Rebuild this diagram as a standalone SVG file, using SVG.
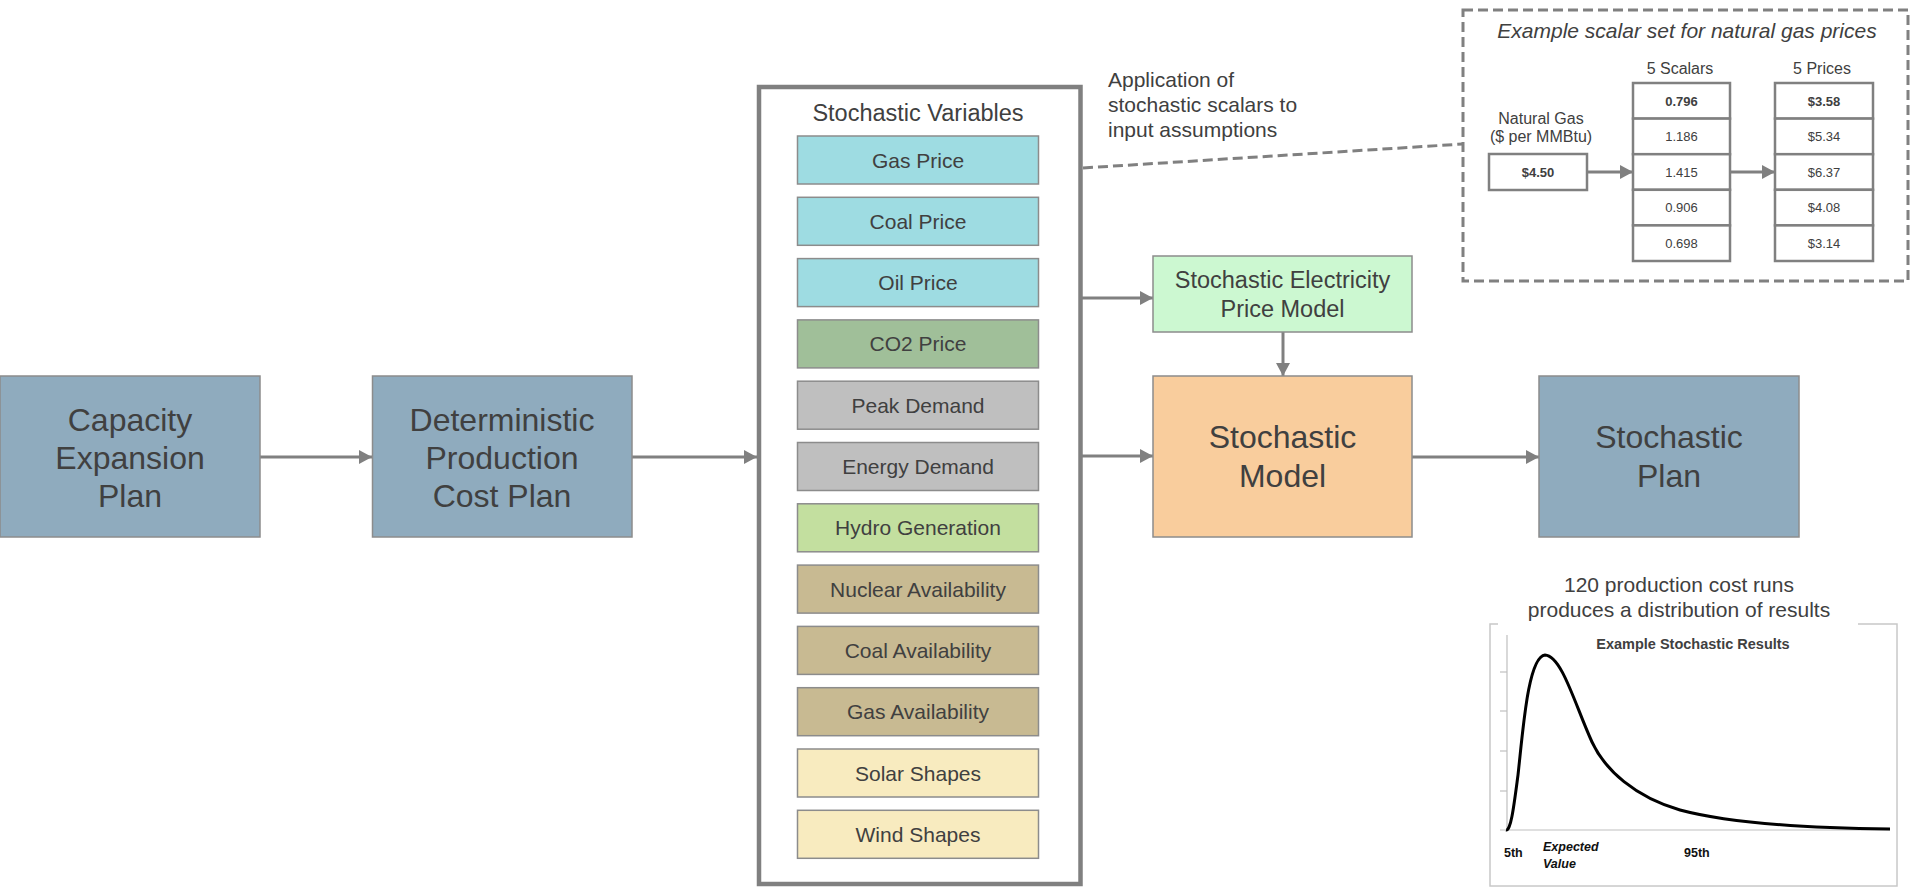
<svg xmlns="http://www.w3.org/2000/svg" width="1913" height="887" viewBox="0 0 1913 887">
<style>
text{font-family:"Liberation Sans",Arial,sans-serif;fill:#404040;text-anchor:middle}
text.left{text-anchor:start}
.big{font-size:32px}
.var{font-size:21px}
.box{stroke:#8c8c8c;stroke-width:1.5}
.plan{fill:#8fabbe}
.vbox{stroke:#8c8c8c;stroke-width:1.5}
.conn{stroke:#808080;stroke-width:3;fill:none}
.dash{stroke:#808080;stroke-width:3;fill:none;stroke-dasharray:10 5}
.cell{fill:#fff;stroke:#808080;stroke-width:2.5}
.sm{font-size:13px}
text.chart{font-family:"Liberation Sans",Arial,sans-serif;fill:#111;font-weight:bold;text-anchor:start;font-size:12.5px}
</style>
<defs>
<marker id="ah" markerUnits="userSpaceOnUse" markerWidth="14" markerHeight="14" refX="13" refY="7" orient="auto">
<path d="M0,0 L13,7 L0,14 z" fill="#808080"/>
</marker>
</defs>

<g id="connectors">
<line class="conn" x1="260" y1="457" x2="372" y2="457" marker-end="url(#ah)"/>
<line class="conn" x1="632" y1="457" x2="757" y2="457" marker-end="url(#ah)"/>
<line class="conn" x1="1082" y1="298" x2="1153" y2="298" marker-end="url(#ah)"/>
<line class="conn" x1="1082" y1="456" x2="1153" y2="456" marker-end="url(#ah)"/>
<line class="conn" x1="1283" y1="332" x2="1283" y2="376" marker-end="url(#ah)"/>
<line class="conn" x1="1412" y1="457" x2="1539" y2="457" marker-end="url(#ah)"/>
<line class="dash" x1="1083" y1="168" x2="1463" y2="144"/>
</g>

<g id="capacity">
<rect class="box plan" x="0" y="376" width="260" height="161"/>
<text class="big" x="130" y="431">Capacity</text>
<text class="big" x="130" y="469">Expansion</text>
<text class="big" x="130" y="507">Plan</text>
</g>

<g id="deterministic">
<rect class="box plan" x="372.5" y="376" width="259.5" height="161"/>
<text class="big" x="502" y="431">Deterministic</text>
<text class="big" x="502" y="469">Production</text>
<text class="big" x="502" y="507">Cost Plan</text>
</g>

<g id="stochastic-variables">
<rect x="759" y="87" width="321.5" height="797" fill="#fff" stroke="#808080" stroke-width="4.5"/>
<text x="918" y="121" font-size="23.5px">Stochastic Variables</text>
<g id="gas-price"><rect class="vbox" x="797.5" y="136" width="241" height="48" fill="#9edce2"/><text class="var" x="918" y="167.5">Gas Price</text></g>
<g id="coal-price"><rect class="vbox" x="797.5" y="197.3" width="241" height="48" fill="#9edce2"/><text class="var" x="918" y="228.8">Coal Price</text></g>
<g id="oil-price"><rect class="vbox" x="797.5" y="258.6" width="241" height="48" fill="#9edce2"/><text class="var" x="918" y="290.1">Oil Price</text></g>
<g id="co2-price"><rect class="vbox" x="797.5" y="319.9" width="241" height="48" fill="#a0bf99"/><text class="var" x="918" y="351.4">CO2 Price</text></g>
<g id="peak-demand"><rect class="vbox" x="797.5" y="381.2" width="241" height="48" fill="#bfbfbf"/><text class="var" x="918" y="412.7">Peak Demand</text></g>
<g id="energy-demand"><rect class="vbox" x="797.5" y="442.5" width="241" height="48" fill="#bfbfbf"/><text class="var" x="918" y="474">Energy Demand</text></g>
<g id="hydro-generation"><rect class="vbox" x="797.5" y="503.8" width="241" height="48" fill="#c3df9f"/><text class="var" x="918" y="535.3">Hydro Generation</text></g>
<g id="nuclear-availability"><rect class="vbox" x="797.5" y="565.1" width="241" height="48" fill="#c8ba92"/><text class="var" x="918" y="596.6">Nuclear Availability</text></g>
<g id="coal-availability"><rect class="vbox" x="797.5" y="626.4" width="241" height="48" fill="#c8ba92"/><text class="var" x="918" y="657.9">Coal Availability</text></g>
<g id="gas-availability"><rect class="vbox" x="797.5" y="687.7" width="241" height="48" fill="#c8ba92"/><text class="var" x="918" y="719.2">Gas Availability</text></g>
<g id="solar-shapes"><rect class="vbox" x="797.5" y="749" width="241" height="48" fill="#f8ebbf"/><text class="var" x="918" y="780.5">Solar Shapes</text></g>
<g id="wind-shapes"><rect class="vbox" x="797.5" y="810.3" width="241" height="48" fill="#f8ebbf"/><text class="var" x="918" y="841.8">Wind Shapes</text></g>
</g>

<g id="annotation">
<text class="left" x="1108" y="87" font-size="21px">Application of</text>
<text class="left" x="1108" y="112" font-size="21px">stochastic scalars to</text>
<text class="left" x="1108" y="137" font-size="21px">input assumptions</text>
</g>

<g id="electricity-model">
<rect class="box" x="1153" y="256" width="259" height="76" fill="#ccf8d1"/>
<text x="1282.5" y="288" font-size="23.5px">Stochastic Electricity</text>
<text x="1282.5" y="317" font-size="23.5px">Price Model</text>
</g>

<g id="stochastic-model">
<rect class="box" x="1153" y="376" width="259" height="161" fill="#f9cd9d"/>
<text class="big" x="1282.5" y="448">Stochastic</text>
<text class="big" x="1282.5" y="487">Model</text>
</g>

<g id="stochastic-plan">
<rect class="box plan" x="1539" y="376" width="260" height="161"/>
<text class="big" x="1669" y="448">Stochastic</text>
<text class="big" x="1669" y="487">Plan</text>
</g>

<g id="scalar-example">
<rect class="dash" x="1463" y="10" width="445" height="271"/>
<text x="1687" y="38" font-size="21px" font-style="italic">Example scalar set for natural gas prices</text>
<text x="1541" y="124" font-size="16px">Natural Gas</text>
<text x="1541" y="142" font-size="16px">($ per MMBtu)</text>
<rect class="cell" x="1489" y="154" width="98" height="36"/>
<text class="sm" x="1538" y="176.5" font-weight="bold">$4.50</text>
<line class="conn" x1="1587" y1="172" x2="1633" y2="172" marker-end="url(#ah)"/>
<line class="conn" x1="1730" y1="172" x2="1775" y2="172" marker-end="url(#ah)"/>
<text x="1680" y="74" font-size="16px">5 Scalars</text>
<text x="1822" y="74" font-size="16px">5 Prices</text>
<g id="scalars">
<rect class="cell" x="1633" y="83" width="97" height="35.6"/>
<rect class="cell" x="1633" y="118.6" width="97" height="35.6"/>
<rect class="cell" x="1633" y="154.2" width="97" height="35.6"/>
<rect class="cell" x="1633" y="189.8" width="97" height="35.6"/>
<rect class="cell" x="1633" y="225.4" width="97" height="35.6"/>
<text class="sm" x="1681.5" y="105.5" font-weight="bold">0.796</text>
<text class="sm" x="1681.5" y="141.1">1.186</text>
<text class="sm" x="1681.5" y="176.7">1.415</text>
<text class="sm" x="1681.5" y="212.3">0.906</text>
<text class="sm" x="1681.5" y="247.9">0.698</text>
</g>
<g id="prices">
<rect class="cell" x="1775" y="83" width="98" height="35.6"/>
<rect class="cell" x="1775" y="118.6" width="98" height="35.6"/>
<rect class="cell" x="1775" y="154.2" width="98" height="35.6"/>
<rect class="cell" x="1775" y="189.8" width="98" height="35.6"/>
<rect class="cell" x="1775" y="225.4" width="98" height="35.6"/>
<text class="sm" x="1824" y="105.5" font-weight="bold">$3.58</text>
<text class="sm" x="1824" y="141.1">$5.34</text>
<text class="sm" x="1824" y="176.7">$6.37</text>
<text class="sm" x="1824" y="212.3">$4.08</text>
<text class="sm" x="1824" y="247.9">$3.14</text>
</g>
</g>

<g id="results-chart">
<rect x="1490" y="624" width="407" height="262" fill="#fff" stroke="#c8c8c8" stroke-width="1.5"/>
<rect x="1498" y="560" width="360" height="66" fill="#fff"/>
<text x="1679" y="592" font-size="21px">120 production cost runs</text>
<text x="1679" y="617" font-size="21px">produces a distribution of results</text>
<text x="1693" y="649" font-size="14.5px" font-weight="bold" fill="#111">Example Stochastic Results</text>
<g stroke="#bfbfbf" stroke-width="1.2">
<line x1="1507" y1="635" x2="1507" y2="830"/>
<line x1="1500" y1="830" x2="1890" y2="830"/>
<line x1="1500" y1="672" x2="1507" y2="672"/>
<line x1="1500" y1="711" x2="1507" y2="711"/>
<line x1="1500" y1="751" x2="1507" y2="751"/>
<line x1="1500" y1="791" x2="1507" y2="791"/>
</g>
<path d="M1506,830 C1511,831 1514,805 1518,775 C1523,730 1528,657 1545,655 C1562,656 1575,705 1592,742 C1605,770 1635,797 1680,810 C1725,822 1790,828 1890,829" fill="none" stroke="#000" stroke-width="3"/>
<text class="chart" x="1504" y="857">5th</text>
<text class="chart" x="1543" y="851" font-style="italic">Expected</text>
<text class="chart" x="1543" y="868" font-style="italic">Value</text>
<text class="chart" x="1684" y="857">95th</text>
</g>
</svg>
